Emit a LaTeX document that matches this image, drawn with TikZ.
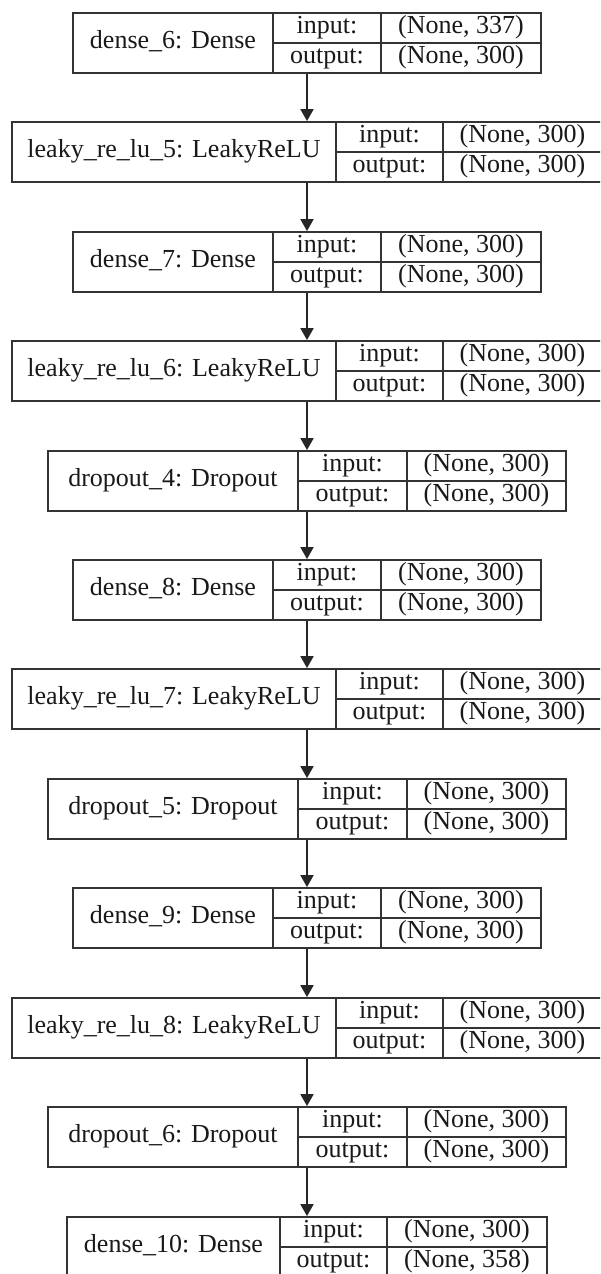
\documentclass[tikz,border=0pt]{standalone}
\usepackage{fontspec}
\setmainfont{Liberation Serif}
\usetikzlibrary{arrows.meta}

\begin{document}
\begin{tikzpicture}[x=0.5pt,y=-0.5pt,
    rec/.style={draw=black!80, line width=0.9pt, inner sep=0pt},
    txt/.style={inner sep=0pt, text height=8pt, text depth=3pt,
                font=\fontsize{13}{15}\selectfont, text=black!90},
    flow/.style={draw=black!85, line width=0.9pt,
                 -{Triangle[width=6.5pt,length=6pt]}}]
\useasboundingbox (0,0) rectangle (600,1274);
\clip (0,0) rectangle (600,1274);

% layers: name/label/left/split1/split2/right/top/input/output
\foreach \nm/\lbl/\L/\sa/\sb/\R/\T/\vin/\vout in {
    d6/dense\_6: Dense/73/273/381/541/13/337/300,
    l5/leaky\_re\_lu\_5: LeakyReLU/12/336/443/602/122/300/300,
    d7/dense\_7: Dense/73/273/381/541/232/300/300,
    l6/leaky\_re\_lu\_6: LeakyReLU/12/336/443/602/341/300/300,
    o4/dropout\_4: Dropout/48/298/407/566/451/300/300,
    d8/dense\_8: Dense/73/273/381/541/560/300/300,
    l7/leaky\_re\_lu\_7: LeakyReLU/12/336/443/602/669/300/300,
    o5/dropout\_5: Dropout/48/298/407/566/779/300/300,
    d9/dense\_9: Dense/73/273/381/541/888/300/300,
    l8/leaky\_re\_lu\_8: LeakyReLU/12/336/443/602/998/300/300,
    o6/dropout\_6: Dropout/48/298/407/566/1107/300/300,
    d10/dense\_10: Dense/67/280/387/547/1217/300/358} {
    \pgfmathsetmacro{\w}{(\R-\L)/2}
    \node[rec, minimum width=\w pt, minimum height=30pt] (\nm) at ({(\L+\R)/2},{\T+30}) {};
    \draw[rec] (\sa,\T) -- (\sa,{\T+60}) (\sb,\T) -- (\sb,{\T+60})
               (\sa,{\T+30}) -- (\R,{\T+30});
    \node[txt] (\nm-name) at ({(\L+\sa)/2},{\T+30}) {\lbl};
    \node[txt] (\nm-ki) at ({(\sa+\sb)/2},{\T+15}) {input:};
    \node[txt] (\nm-vi) at ({(\sb+\R)/2},{\T+15}) {(None, \vin)};
    \node[txt] (\nm-ko) at ({(\sa+\sb)/2},{\T+45}) {output:};
    \node[txt] (\nm-vo) at ({(\sb+\R)/2},{\T+45}) {(None, \vout)};
}

% arrows between layers
\foreach \a/\b in {d6/l5, l5/d7, d7/l6, l6/o4, o4/d8, d8/l7,
                   l7/o5, o5/d9, d9/l8, l8/o6, o6/d10}
    \draw[flow] (\a.south) -- (\a.south |- \b.north);
\end{tikzpicture}
\end{document}
